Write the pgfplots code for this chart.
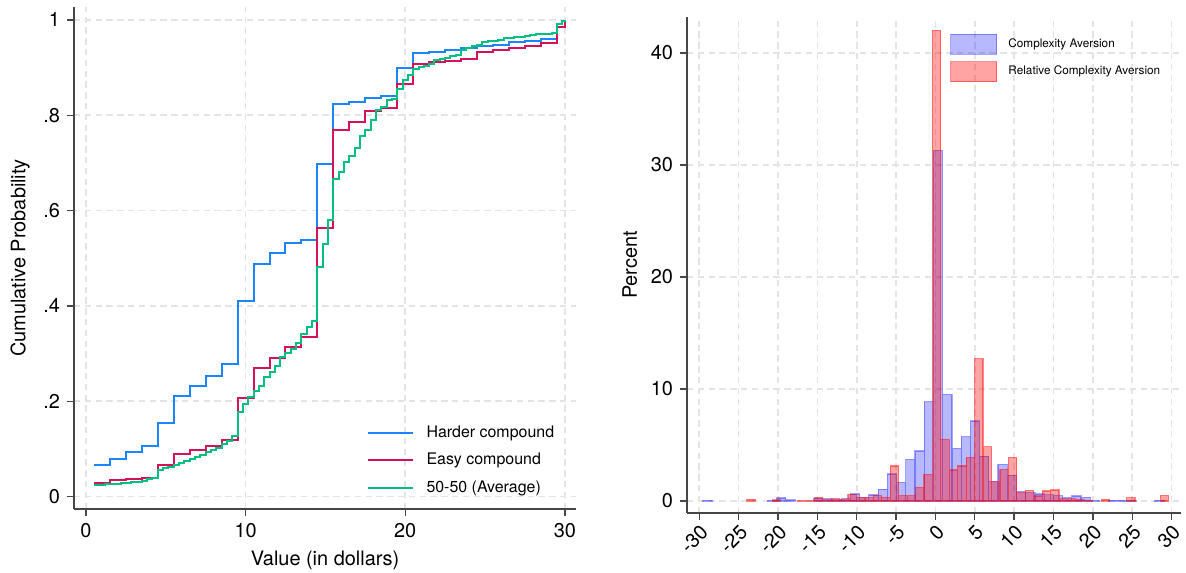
\documentclass[border=0pt]{standalone}
\usepackage{fontspec}
\setmainfont{TeX Gyre Heros}
\usepackage{pgfplots}
\usepackage{pgfplotstable}
\pgfplotsset{compat=1.18}

\definecolor{hardblue}{RGB}{26,133,255}
\definecolor{easyred}{RGB}{212,17,89}
\definecolor{avggreen}{RGB}{0,191,127}
\definecolor{gridgray}{RGB}{228,228,228}
\definecolor{spine}{RGB}{70,70,70}

% Step functions: each value holds from its x up to the next x
\pgfplotstableread{
x y
0.5 0.066
1.5 0.079
2.5 0.093
3.5 0.106
4.5 0.154
5.5 0.212
6.5 0.231
7.5 0.254
8.5 0.278
9.5 0.411
10.5 0.488
11.5 0.512
12.5 0.532
13.5 0.539
14.5 0.697
15.5 0.823
16.5 0.828
17.5 0.836
18.5 0.840
19.5 0.899
20.5 0.931
21.5 0.933
22.5 0.936
23.5 0.940
24.5 0.945
25.5 0.948
26.5 0.953
27.5 0.956
28.5 0.959
29.5 0.984
30 1.0
}\hardtab

\pgfplotstableread{
x y
0.5 0.028
1.5 0.034
2.5 0.036
3.5 0.038
4.5 0.066
5.5 0.089
6.5 0.097
7.5 0.106
8.5 0.118
9.5 0.206
10.5 0.270
11.5 0.291
12.5 0.313
13.5 0.334
14.5 0.564
15.5 0.770
16.5 0.785
17.5 0.809
18.5 0.816
19.5 0.865
20.5 0.907
21.5 0.911
22.5 0.913
23.5 0.917
24.5 0.933
25.5 0.936
26.5 0.940
27.5 0.945
28.5 0.952
29.5 0.984
30 1.0
}\easytab

\pgfplotstableread{
x y
0.5 0.025
0.833 0.025
1.167 0.026
1.5 0.026
1.833 0.027
2.167 0.028
2.5 0.029
2.833 0.030
3.167 0.031
3.5 0.033
3.833 0.036
4.167 0.040
4.5 0.055
4.833 0.059
5.167 0.062
5.5 0.066
5.833 0.070
6.167 0.074
6.5 0.078
6.833 0.083
7.167 0.088
7.5 0.093
7.833 0.098
8.167 0.103
8.5 0.110
8.833 0.117
9.167 0.128
9.5 0.177
9.833 0.194
10.167 0.208
10.5 0.222
10.833 0.232
11.167 0.250
11.5 0.261
11.833 0.273
12.167 0.292
12.5 0.301
12.833 0.310
13.167 0.323
13.5 0.341
13.833 0.355
14.167 0.368
14.5 0.482
14.833 0.530
15.167 0.580
15.5 0.667
15.833 0.680
16.167 0.702
16.5 0.714
16.833 0.732
17.167 0.756
17.5 0.770
17.833 0.790
18.167 0.810
18.5 0.818
18.833 0.832
19.167 0.835
19.5 0.856
19.833 0.874
20.167 0.884
20.5 0.897
20.833 0.901
21.167 0.904
21.5 0.908
21.833 0.915
22.167 0.918
22.5 0.921
22.833 0.924
23.167 0.927
23.5 0.936
23.833 0.940
24.167 0.945
24.5 0.948
24.833 0.953
25.167 0.955
25.5 0.956
25.833 0.958
26.167 0.961
26.5 0.962
26.833 0.964
27.167 0.965
27.5 0.967
27.833 0.968
28.167 0.970
28.5 0.971
28.833 0.971
29.167 0.973
29.5 0.991
29.833 0.998
30 1.0
}\avgtab

% Histogram bins: bin centre and percent
\pgfplotstableread{
x y
-28.964 0.08
-20.760 0.08
-19.588 0.27
-18.416 0.09
-14.900 0.25
-13.728 0.21
-12.556 0.10
-11.384 0.21
-10.212 0.63
-9.040 0.30
-7.868 0.54
-6.696 1.05
-5.524 2.41
-4.352 1.67
-3.180 3.72
-2.008 4.46
-0.836 8.87
0.336 31.3
1.508 9.52
2.680 4.70
3.852 5.74
5.024 7.14
6.196 4.00
7.368 1.73
8.540 3.27
9.712 2.30
10.884 0.83
12.056 0.74
13.228 0.62
14.400 0.55
15.572 0.48
16.744 0.30
17.916 0.45
19.088 0.33
20.260 0.05
22.604 0.08
23.776 0.08
24.948 0.08
28.464 0.08
}\catab

\pgfplotstableread{
x y
-23.428 0.15
-20.212 0.10
-16.996 0.05
-15.924 0.05
-14.852 0.33
-13.780 0.10
-12.708 0.21
-11.636 0.10
-10.564 0.60
-9.492 0.33
-8.420 0.30
-7.348 0.48
-6.276 0.33
-5.204 3.13
-4.132 0.48
-3.060 0.48
-1.988 1.22
-0.916 2.38
0.156 42.0
1.228 5.51
2.300 2.77
3.372 3.13
4.444 3.90
5.516 12.7
6.588 4.85
7.660 1.73
8.732 2.83
9.804 3.90
10.876 0.74
11.948 0.95
13.020 0.45
14.092 0.89
15.164 0.98
16.236 0.21
17.308 0.20
18.380 0.10
19.452 0.05
21.596 0.15
24.812 0.30
29.100 0.50
}\rcatab

\pgfplotsset{
  panel/.style={
    scale only axis,
    axis x line*=bottom, axis y line*=left,
    axis line style={spine, line width=0.7bp},
    tick style={spine, line width=0.7bp},
    tick align=outside,
    major tick length=3.5bp,
    grid=major,
    major grid style={gridgray, line width=0.8bp, dash pattern=on 3.2bp off 2.2bp},
    tick label style={font=\fontsize{10}{12}\selectfont},
    label style={font=\fontsize{10}{12}\selectfont},
    /pgf/number format/assume math mode=true,
  },
  linekey/.style={legend image code/.code={\draw[##1] (0bp,0bp) -- (22.5bp,0bp);}},
  swatch/.style={legend image code/.code={\draw[##1] (0bp,-5bp) rectangle (23bp,5bp);}},
}

\begin{document}
\begin{tikzpicture}
\path[use as bounding box] (0,0) rectangle (593bp,286.5bp);

\begin{axis}[panel,
  at={(37bp,32bp)}, anchor=south west,
  width=251bp, height=251bp,
  xmin=-0.75, xmax=30.7, ymin=-0.026, ymax=1.027,
  xtick={0,10,20,30}, xticklabels={0,10,20,30},
  ytick={0,0.2,0.4,0.6,0.8,1}, yticklabels={0,.2,.4,.6,.8,1},
  xlabel={Value (in dollars)}, ylabel={Cumulative Probability},
  legend cell align=left,
  legend style={at={(0.57,0.183)}, anchor=north west, draw=none, fill=none,
    font=\fontsize{8}{9}\selectfont, row sep=2.5bp,
    /tikz/every odd column/.append style={column sep=4.5bp}},
]
\addplot[const plot, hardblue, line width=1bp, linekey] table {\hardtab};
\addlegendentry{Harder compound}
\addplot[const plot, easyred, line width=1bp, linekey] table {\easytab};
\addlegendentry{Easy compound}
\addplot[const plot, avggreen, line width=1bp, linekey] table {\avgtab};
\addlegendentry{50-50 (Average)}
\end{axis}

\begin{axis}[panel,
  at={(343.5bp,30bp)}, anchor=south west,
  width=247bp, height=248bp,
  xmin=-31.56, xmax=31.2, ymin=-1.07, ymax=43.2,
  xtick={-30,-25,...,30},
  xticklabels={-30,-25,-20,-15,-10,-5,0,5,10,15,20,25,30},
  xticklabel style={rotate=45, anchor=north east, inner sep=1.2bp},
  ytick={0,10,20,30,40}, yticklabels={0,10,20,30,40},
  ylabel={Percent},
  legend cell align=left,
  legend style={at={(0.52,0.975)}, anchor=north west, draw=none, fill=none,
    font=\fontsize{5.9}{7}\selectfont, row sep=3bp,
    /tikz/every odd column/.append style={column sep=3.5bp}},
]
\addplot[ybar, bar width=1.172, bar shift=0pt,
  fill=blue, fill opacity=0.28, draw=blue, draw opacity=0.35, line width=0.6bp, swatch]
  table {\catab};
\addlegendentry{Complexity Aversion}
\addplot[ybar, bar width=1.072, bar shift=0pt,
  fill=red, fill opacity=0.36, draw=red, draw opacity=0.45, line width=0.6bp, swatch]
  table {\rcatab};
\addlegendentry{Relative Complexity Aversion}
\end{axis}
\end{tikzpicture}
\end{document}
